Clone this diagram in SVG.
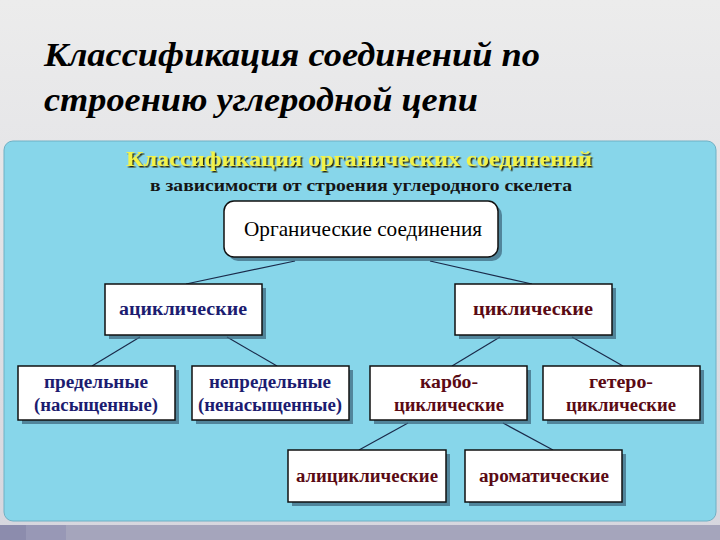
<svg xmlns="http://www.w3.org/2000/svg" width="720" height="540" viewBox="0 0 720 540">
<defs>
<linearGradient id="bg" x1="0" y1="0" x2="0" y2="1">
<stop offset="0" stop-color="#ececec"/>
<stop offset="1" stop-color="#d6d6de"/>
</linearGradient>
<filter id="ds" x="-5%" y="-30%" width="110%" height="160%">
<feDropShadow dx="1.5" dy="1.5" stdDeviation="0.3" flood-color="#2a2a10" flood-opacity="1"/>
</filter>
</defs>
<rect x="0" y="0" width="720" height="540" fill="url(#bg)"/>
<g id="title" fill="#000">
<text font-family="Liberation Serif" font-weight="bold" font-style="italic" font-size="34" x="44" y="66" textLength="496" lengthAdjust="spacingAndGlyphs">Классификация соединений по</text>
<text font-family="Liberation Serif" font-weight="bold" font-style="italic" font-size="34" x="44" y="111" textLength="434" lengthAdjust="spacingAndGlyphs">строению углеродной цепи</text>
</g>
<rect x="4" y="141" width="712" height="380" rx="9" fill="#87d6ea" stroke="#6fb0c4" stroke-width="1"/>
<rect x="0" y="525" width="720" height="15" fill="#a5a5bc"/>
<rect x="0" y="525" width="26" height="15" fill="#8c8cad"/>
<rect x="26" y="525" width="40" height="15" fill="#9898b6"/>
<g id="heading" text-anchor="middle">
<text font-family="Liberation Serif" font-weight="bold" x="359" y="166" font-size="22" fill="#f2f24a" filter="url(#ds)" textLength="466" lengthAdjust="spacingAndGlyphs">Классификация органических соединений</text>
<text font-family="Liberation Serif" font-weight="bold" x="361" y="191" font-size="17" fill="#151515" textLength="422" lengthAdjust="spacingAndGlyphs">в зависимости от строения углеродного скелета</text>
</g>
<g id="connectors" stroke="#1a2a4a" stroke-width="1.2">
<line x1="295" y1="261" x2="186" y2="284"/>
<line x1="430" y1="261" x2="532" y2="284"/>
<line x1="140" y1="337" x2="92" y2="366"/>
<line x1="227" y1="337" x2="277" y2="366"/>
<line x1="500" y1="337" x2="452" y2="366"/>
<line x1="572" y1="337" x2="623" y2="366"/>
<line x1="408" y1="423" x2="359" y2="450"/>
<line x1="503" y1="423" x2="553" y2="450"/>
</g>
<g id="root">
<rect x="228" y="205" width="274" height="56" rx="10" fill="#3f6a80" opacity="0.75"/>
<rect x="224" y="201" width="274" height="56" rx="10" fill="#fff" stroke="#111" stroke-width="1.5"/>
<text font-family="Liberation Serif" x="363" y="236" font-size="22" text-anchor="middle" fill="#000" textLength="238" lengthAdjust="spacingAndGlyphs">Органические соединения</text>
</g>
<g font-weight="bold" font-size="18" text-anchor="middle">
<g id="acyclic">
<rect x="109" y="288" width="157" height="51" fill="#3f6a80" opacity="0.75"/>
<rect x="105" y="284" width="157" height="51" fill="#fff" stroke="#111" stroke-width="1.5"/>
<text font-family="Liberation Serif" x="183" y="315" fill="#1c1c70" textLength="128" lengthAdjust="spacingAndGlyphs">ациклические</text>
</g>
<g id="cyclic">
<rect x="459" y="288" width="157" height="51" fill="#3f6a80" opacity="0.75"/>
<rect x="455" y="284" width="157" height="51" fill="#fff" stroke="#111" stroke-width="1.5"/>
<text font-family="Liberation Serif" x="533" y="315" fill="#5a0a14" textLength="120" lengthAdjust="spacingAndGlyphs">циклические</text>
</g>
<g id="saturated" fill="#1c1c70">
<rect x="22" y="370" width="157" height="54" fill="#3f6a80" opacity="0.75"/>
<rect x="18" y="366" width="157" height="54" fill="#fff" stroke="#111" stroke-width="1.5"/>
<text font-family="Liberation Serif" x="96" y="388" textLength="104" lengthAdjust="spacingAndGlyphs">предельные</text>
<text font-family="Liberation Serif" x="96" y="411" textLength="124" lengthAdjust="spacingAndGlyphs">(насыщенные)</text>
</g>
<g id="unsaturated" fill="#1c1c70">
<rect x="196" y="370" width="157" height="54" fill="#3f6a80" opacity="0.75"/>
<rect x="192" y="366" width="157" height="54" fill="#fff" stroke="#111" stroke-width="1.5"/>
<text font-family="Liberation Serif" x="270" y="388" textLength="122" lengthAdjust="spacingAndGlyphs">непредельные</text>
<text font-family="Liberation Serif" x="270" y="411" textLength="144" lengthAdjust="spacingAndGlyphs">(ненасыщенные)</text>
</g>
<g id="carbo" fill="#5a0a14">
<rect x="374" y="370" width="157" height="54" fill="#3f6a80" opacity="0.75"/>
<rect x="370" y="366" width="157" height="54" fill="#fff" stroke="#111" stroke-width="1.5"/>
<text font-family="Liberation Serif" x="449" y="388" textLength="58" lengthAdjust="spacingAndGlyphs">карбо-</text>
<text font-family="Liberation Serif" x="449" y="411" textLength="110" lengthAdjust="spacingAndGlyphs">циклические</text>
</g>
<g id="hetero" fill="#5a0a14">
<rect x="547" y="370" width="157" height="54" fill="#3f6a80" opacity="0.75"/>
<rect x="543" y="366" width="157" height="54" fill="#fff" stroke="#111" stroke-width="1.5"/>
<text font-family="Liberation Serif" x="621" y="388" textLength="64" lengthAdjust="spacingAndGlyphs">гетеро-</text>
<text font-family="Liberation Serif" x="621" y="411" textLength="110" lengthAdjust="spacingAndGlyphs">циклические</text>
</g>
<g id="alicyclic" fill="#5a0a14">
<rect x="292" y="454" width="158" height="52" fill="#3f6a80" opacity="0.75"/>
<rect x="288" y="450" width="158" height="52" fill="#fff" stroke="#111" stroke-width="1.5"/>
<text font-family="Liberation Serif" x="367" y="482" textLength="142" lengthAdjust="spacingAndGlyphs">алициклические</text>
</g>
<g id="aromatic" fill="#5a0a14">
<rect x="469" y="454" width="157" height="52" fill="#3f6a80" opacity="0.75"/>
<rect x="465" y="450" width="157" height="52" fill="#fff" stroke="#111" stroke-width="1.5"/>
<text font-family="Liberation Serif" x="544" y="482" textLength="130" lengthAdjust="spacingAndGlyphs">ароматические</text>
</g>
</g>
</svg>
